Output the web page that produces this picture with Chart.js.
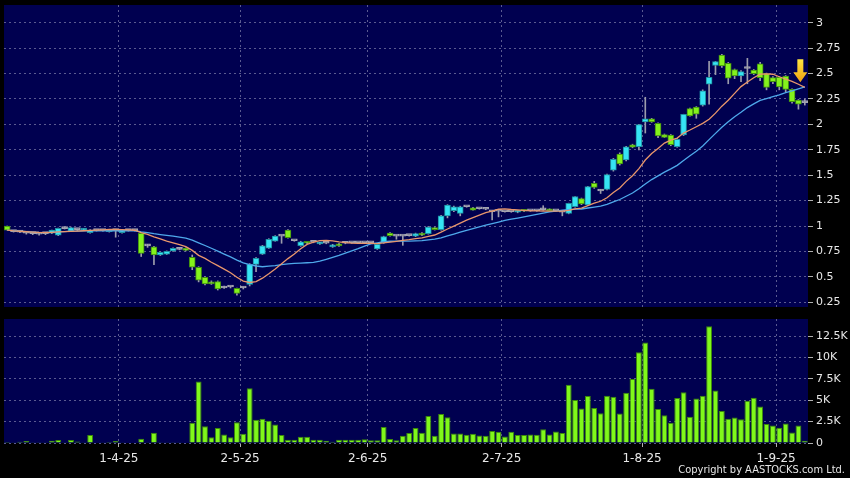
<!DOCTYPE html>
<html>
<head>
<meta charset="utf-8">
<script src="https://cdn.jsdelivr.net/npm/chart.js@4.4.1/dist/chart.umd.min.js"></script>
<style>
  html, body { margin: 0; padding: 0; background: #000; }
  body { width: 850px; height: 478px; position: relative; overflow: hidden; font-family: "DejaVu Sans", sans-serif; }
  #priceChart { position: absolute; left: 0; top: 0; }
  #volChart { position: absolute; left: 0; top: 310px; }
  #copy { position: absolute; right: 5px; top: 463px; color: #e6e6e6; font-family: "DejaVu Sans Condensed", "DejaVu Sans", sans-serif; font-stretch: condensed; font-size: 11px; white-space: nowrap; }
</style>
</head>
<body>
<canvas id="priceChart" width="850" height="310"></canvas>
<canvas id="volChart" width="850" height="156"></canvas>
<div id="copy">Copyright by AASTOCKS.com Ltd.</div>
<script>
// trading days, 6 Mar 2025 - 5 Sep 2025 (HK holidays left out)
const tradingDays = [
  [3, [6, 7, 10, 11, 12, 13, 14, 17, 18, 19, 20, 21, 24, 25, 26, 27, 28, 31]],
  [4, [1, 2, 3, 7, 8, 9, 10, 11, 14, 15, 16, 17, 22, 23, 24, 25, 28, 29, 30]],
  [5, [2, 6, 7, 8, 9, 12, 13, 14, 15, 16, 19, 20, 21, 22, 23, 26, 27, 28, 29, 30]],
  [6, [2, 3, 4, 5, 6, 9, 10, 11, 12, 13, 16, 17, 18, 19, 20, 23, 24, 25, 26, 27, 30]],
  [7, [2, 3, 4, 7, 8, 9, 10, 11, 14, 15, 16, 17, 18, 21, 22, 23, 24, 25, 28, 29, 30, 31]],
  [8, [1, 4, 5, 6, 7, 8, 11, 12, 13, 14, 15, 18, 19, 20, 21, 22, 25, 26, 27, 28, 29]],
  [9, [1, 2, 3, 4, 5]]
];
const tickDates = ["1-4-25", "2-5-25", "2-6-25", "2-7-25", "1-8-25", "1-9-25"];
const priceTicks = [0.25, 0.5, 0.75, 1, 1.25, 1.5, 1.75, 2, 2.25, 2.5, 2.75, 3];
const volTicks = [0, 2500, 5000, 7500, 10000, 12500];

const open = [
  1.00, 0.945, 0.94, 0.93, 0.925, 0.92, 0.925, 0.93, 0.91, 0.975,
  0.95, 0.965, 0.96, 0.935, 0.955, 0.955, 0.945, 0.955, 0.935, 0.955,
  0.955, 0.928, 0.805, 0.796, 0.715, 0.724, 0.754, 0.77, 0.783, 0.692,
  0.594, 0.495, 0.45, 0.452, 0.39, 0.40, 0.387, 0.39, 0.426, 0.623,
  0.724, 0.783, 0.852, 0.90, 0.96, 0.855, 0.806, 0.835, 0.84, 0.825,
  0.83, 0.795, 0.825, 0.83, 0.835, 0.835, 0.835, 0.835, 0.775, 0.835,
  0.93, 0.90, 0.90, 0.905, 0.90, 0.93, 0.925, 0.985, 0.965, 1.10,
  1.15, 1.125, 1.19, 1.18, 1.17, 1.165, 1.14, 1.145, 1.14, 1.14,
  1.135, 1.155, 1.15, 1.15, 1.16, 1.165, 1.15, 1.135, 1.125, 1.19,
  1.27, 1.207, 1.42, 1.345, 1.36, 1.55, 1.708, 1.65, 1.80, 1.78,
  2.024, 2.056, 2.01, 1.90, 1.896, 1.78, 1.896, 2.155, 2.17, 2.19,
  2.395, 2.58, 2.683, 2.60, 2.54, 2.476, 2.55, 2.535, 2.595, 2.50,
  2.46, 2.464, 2.476, 2.345, 2.24, 2.214
];
const high = [
  1.00, 0.95, 0.945, 0.935, 0.93, 0.93, 0.935, 0.96, 0.98, 0.99,
  0.99, 0.97, 0.975, 0.965, 0.96, 0.96, 0.965, 0.96, 0.96, 0.96,
  0.96, 0.935, 0.82, 0.80, 0.745, 0.755, 0.785, 0.78, 0.785, 0.715,
  0.60, 0.50, 0.46, 0.46, 0.41, 0.405, 0.39, 0.40, 0.63, 0.69,
  0.81, 0.875, 0.905, 0.905, 0.965, 0.86, 0.85, 0.84, 0.845, 0.84,
  0.835, 0.82, 0.83, 0.835, 0.84, 0.84, 0.84, 0.84, 0.825, 0.90,
  0.935, 0.905, 0.905, 0.91, 0.93, 0.935, 0.995, 0.99, 1.105, 1.21,
  1.195, 1.195, 1.195, 1.185, 1.175, 1.17, 1.15, 1.15, 1.145, 1.145,
  1.145, 1.16, 1.155, 1.155, 1.20, 1.17, 1.155, 1.14, 1.225, 1.29,
  1.275, 1.39, 1.44, 1.36, 1.51, 1.665, 1.72, 1.785, 1.805, 2.00,
  2.267, 2.06, 2.015, 1.905, 1.90, 1.86, 2.10, 2.16, 2.175, 2.34,
  2.62, 2.62, 2.69, 2.61, 2.545, 2.53, 2.65, 2.54, 2.61, 2.505,
  2.47, 2.47, 2.48, 2.35, 2.245, 2.25
];
const low = [
  0.96, 0.94, 0.935, 0.92, 0.915, 0.91, 0.915, 0.925, 0.905, 0.97,
  0.945, 0.955, 0.955, 0.93, 0.95, 0.95, 0.94, 0.89, 0.93, 0.95,
  0.95, 0.70, 0.79, 0.62, 0.71, 0.72, 0.75, 0.765, 0.755, 0.57,
  0.45, 0.42, 0.425, 0.37, 0.385, 0.39, 0.32, 0.38, 0.41, 0.55,
  0.72, 0.78, 0.85, 0.83, 0.88, 0.85, 0.80, 0.825, 0.835, 0.82,
  0.825, 0.79, 0.80, 0.825, 0.83, 0.83, 0.83, 0.83, 0.77, 0.83,
  0.90, 0.87, 0.81, 0.90, 0.895, 0.905, 0.92, 0.96, 0.96, 1.08,
  1.14, 1.10, 1.185, 1.155, 1.165, 1.16, 1.06, 1.09, 1.135, 1.135,
  1.13, 1.14, 1.145, 1.145, 1.155, 1.145, 1.145, 1.10, 1.12, 1.185,
  1.21, 1.20, 1.37, 1.32, 1.355, 1.54, 1.60, 1.64, 1.77, 1.75,
  1.915, 2.02, 1.87, 1.87, 1.79, 1.775, 1.89, 2.08, 2.06, 2.18,
  2.20, 2.49, 2.56, 2.40, 2.45, 2.42, 2.40, 2.49, 2.43, 2.34,
  2.40, 2.34, 2.32, 2.21, 2.15, 2.19
];
const close = [
  0.96, 0.945, 0.94, 0.93, 0.925, 0.92, 0.925, 0.96, 0.977, 0.975,
  0.985, 0.965, 0.97, 0.96, 0.955, 0.955, 0.96, 0.955, 0.955, 0.955,
  0.955, 0.731, 0.805, 0.715, 0.741, 0.75, 0.78, 0.77, 0.76, 0.594,
  0.468, 0.43, 0.43, 0.38, 0.39, 0.40, 0.337, 0.39, 0.623, 0.682,
  0.806, 0.869, 0.90, 0.90, 0.885, 0.855, 0.845, 0.83, 0.84, 0.835,
  0.83, 0.815, 0.805, 0.83, 0.835, 0.835, 0.835, 0.835, 0.82, 0.895,
  0.905, 0.90, 0.90, 0.905, 0.925, 0.91, 0.99, 0.965, 1.10, 1.207,
  1.19, 1.19, 1.19, 1.157, 1.17, 1.165, 1.14, 1.145, 1.14, 1.14,
  1.14, 1.145, 1.15, 1.15, 1.16, 1.15, 1.15, 1.135, 1.223, 1.29,
  1.217, 1.387, 1.38, 1.345, 1.505, 1.657, 1.61, 1.78, 1.775, 1.997,
  2.056, 2.024, 1.886, 1.873, 1.80, 1.853, 2.10, 2.083, 2.10, 2.33,
  2.464, 2.617, 2.575, 2.454, 2.476, 2.52, 2.55, 2.50, 2.46, 2.365,
  2.42, 2.37, 2.345, 2.223, 2.20, 2.214
];
const volume = [
  120, 30, 150, 230, 20, 100, 80, 270, 350, 80,
  350, 190, 40, 930, 0, 40, 120, 230, 40, 0,
  0, 500, 40, 1200, 100, 80, 100, 40, 0, 2360,
  7200, 1970, 660, 1740, 1000, 660, 2440, 1080, 6390, 2710,
  2830, 2590, 2170, 930, 390, 390, 740, 740, 390, 390,
  270, 150, 390, 390, 390, 390, 430, 310, 310, 1860,
  460, 310, 850, 1160, 1740, 1200, 3170, 850, 3400, 3020,
  1120, 1120, 970, 1080, 890, 850, 1390, 1320, 770, 1320,
  930, 930, 1000, 970, 1620, 1000, 1350, 1160, 6810, 5030,
  4020, 5500, 4100, 3480, 5530, 5420, 3440, 5880, 7470, 10600,
  11760, 6350, 3990, 3250, 2360, 5260, 5920, 3060, 5190, 5530,
  13660, 6150, 3750, 2830, 2980, 2790, 4950, 5300, 4260, 2210,
  2050, 1780, 2280, 1240, 2050, 270
];
// yellow signal arrow (candle index, price at the arrow tip)
const signalIndex = 124.3;
const signalPrice = 2.415;

const navy = "#000050";
const gridColor = "#5a5a90";
const textColor = "#e8e8e8";
const upFill = "#36e4f4", upLine = "#1d8fa0";
const downFill = "#84f21c", downLine = "#3f8c10";
const flatFill = "#a4a4b0";
const wickColor = "#9c9cac";

const labels = [];
tradingDays.forEach(([m, days]) => days.forEach(d => labels.push(d + "-" + m + "-25")));

function movingAverage(values, n) {
  return values.map((_, i) => {
    const win = values.slice(Math.max(0, i - n + 1), i + 1);
    return win.reduce((a, b) => a + b, 0) / win.length;
  });
}

function isDateLine(ctx) {
  return ctx.tick && tickDates.includes(labels[ctx.tick.value]);
}

const panelBg = {
  id: "panelBg",
  beforeDraw(chart) {
    const { ctx, chartArea: a } = chart;
    ctx.save();
    ctx.fillStyle = navy;
    ctx.fillRect(a.left, a.top, a.right - a.left, a.bottom - a.top);
    ctx.restore();
  }
};

const signalArrow = {
  id: "signalArrow",
  afterDatasetsDraw(chart) {
    const { ctx } = chart;
    const x = chart.scales.x.getPixelForValue(signalIndex);
    const tip = chart.scales.y.getPixelForValue(signalPrice);
    const g = ctx.createLinearGradient(0, tip - 23, 0, tip);
    g.addColorStop(0, "#ffe640");
    g.addColorStop(1, "#f0a010");
    ctx.save();
    ctx.fillStyle = g;
    ctx.beginPath();
    ctx.moveTo(x - 3, tip - 23);
    ctx.lineTo(x + 3, tip - 23);
    ctx.lineTo(x + 3, tip - 10);
    ctx.lineTo(x + 7, tip - 10);
    ctx.lineTo(x, tip);
    ctx.lineTo(x - 7, tip - 10);
    ctx.lineTo(x - 3, tip - 10);
    ctx.closePath();
    ctx.fill();
    ctx.restore();
  }
};

function xScale(showLabels) {
  return {
    type: "category",
    offset: true,
    border: { display: false, dash: [2, 3] },
    grid: {
      offset: true,
      color: ctx => isDateLine(ctx) ? gridColor : "transparent",
      drawTicks: showLabels,
      tickLength: 4,
      tickColor: ctx => isDateLine(ctx) ? "#b0b0b0" : "transparent"
    },
    ticks: {
      display: showLabels,
      autoSkip: false,
      maxRotation: 0,
      color: textColor,
      font: { family: "DejaVu Sans", size: 12 },
      padding: 5,
      labelOffset: -3.2,
      callback: (v, i) => tickDates.includes(labels[i]) ? labels[i] : ""
    },
    afterFit: s => { s.height = showLabels ? 23 : 0; }
  };
}

function yScale(min, max, values, fmt) {
  return {
    position: "right",
    min: min,
    max: max,
    border: { display: false, dash: [2, 3] },
    grid: { color: gridColor, drawTicks: true, tickLength: 5, tickColor: "#b0b0b0" },
    afterBuildTicks: s => { s.ticks = values.map(v => ({ value: v })); },
    ticks: { color: textColor, font: { family: "DejaVu Sans", size: 11 }, padding: 3, callback: fmt },
    afterFit: s => { s.width = 42; s.paddingTop = 0; s.paddingBottom = 0; }
  };
}

new Chart(document.getElementById("priceChart"), {
  type: "bar",
  data: {
    labels: labels,
    datasets: [
      {
        type: "line",
        data: movingAverage(close, 10),
        borderColor: "#e8966c",
        borderWidth: 1.3,
        pointRadius: 0,
        order: 0
      },
      {
        type: "line",
        data: movingAverage(close, 20),
        borderColor: "#4ea8ea",
        borderWidth: 1.3,
        pointRadius: 0,
        order: 1
      },
      {
        data: open.map((o, i) => [o, close[i]]),
        grouped: false,
        barThickness: 6,
        minBarLength: 2,
        borderWidth: 1,
        borderSkipped: false,
        backgroundColor: c => close[c.dataIndex] > open[c.dataIndex] ? upFill : close[c.dataIndex] < open[c.dataIndex] ? downFill : flatFill,
        borderColor: c => close[c.dataIndex] > open[c.dataIndex] ? upLine : close[c.dataIndex] < open[c.dataIndex] ? downLine : flatFill,
        order: 2
      },
      {
        data: low.map((l, i) => [l, high[i]]),
        grouped: false,
        barThickness: 1,
        backgroundColor: wickColor,
        order: 3
      }
    ]
  },
  options: {
    responsive: false,
    devicePixelRatio: 1,
    animation: false,
    layout: { padding: { left: 4, top: 5, right: 0, bottom: 3 } },
    plugins: { legend: { display: false }, tooltip: { enabled: false } },
    scales: {
      x: xScale(false),
      y: yScale(0.203, 3.175, priceTicks, v => String(v))
    }
  },
  plugins: [panelBg, signalArrow]
});

new Chart(document.getElementById("volChart"), {
  type: "bar",
  data: {
    labels: labels,
    datasets: [{
      data: volume,
      backgroundColor: "#80f81a",
      borderColor: "#3c8a0a",
      borderWidth: 1,
      barPercentage: 0.92,
      categoryPercentage: 1
    }]
  },
  options: {
    responsive: false,
    devicePixelRatio: 1,
    animation: false,
    layout: { padding: { left: 4, top: 9, right: 0, bottom: 0 } },
    plugins: { legend: { display: false }, tooltip: { enabled: false } },
    scales: {
      x: xScale(true),
      y: yScale(0, 14500, volTicks, v => v === 0 ? "0" : (v / 1000) + "K")
    }
  },
  plugins: [panelBg]
});
</script>
</body>
</html>
